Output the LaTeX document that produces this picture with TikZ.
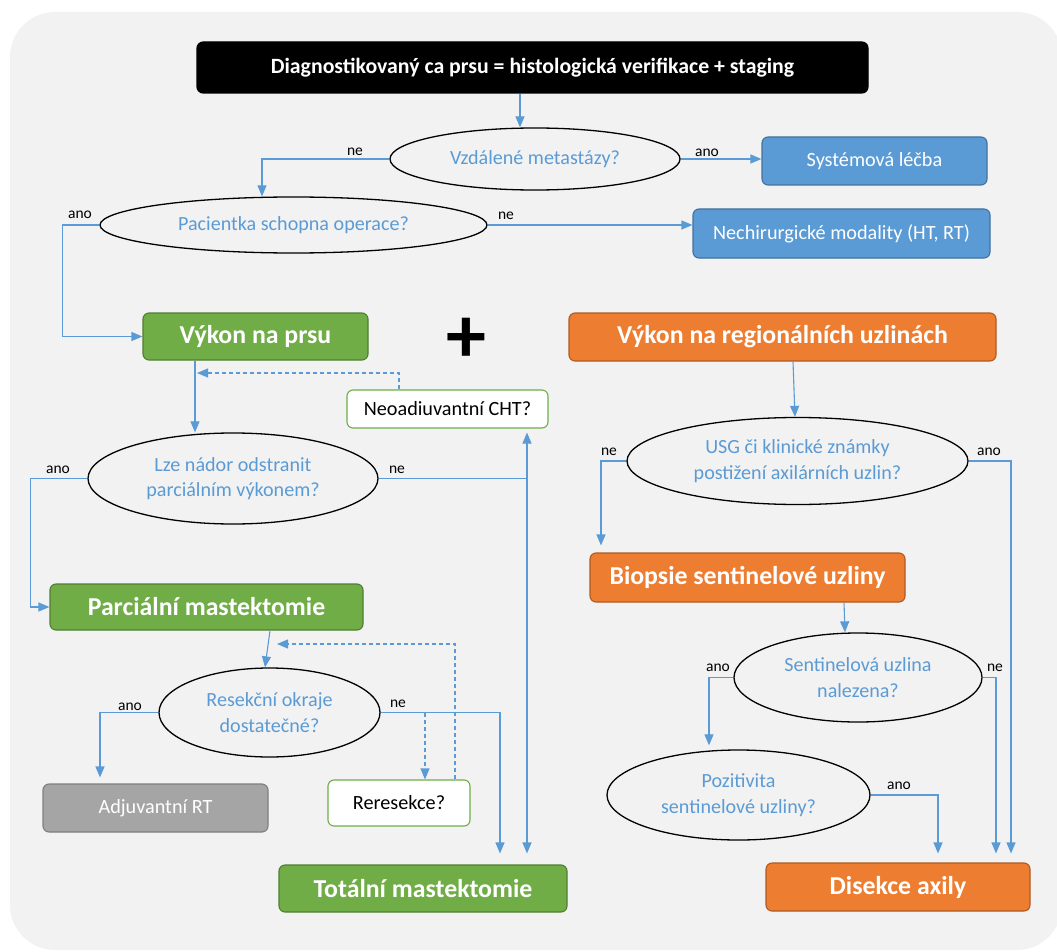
\documentclass[tikz,border=0pt]{standalone}
\usepackage{fontspec}
\setmainfont{Carlito}
\usetikzlibrary{shapes.geometric,arrows.meta}
\definecolor{cblue}{HTML}{5B9BD5}
\definecolor{cblueD}{HTML}{41719C}
\definecolor{cgreen}{HTML}{70AD47}
\definecolor{cgreenD}{HTML}{507E32}
\definecolor{corange}{HTML}{ED7D31}
\definecolor{corangeD}{HTML}{AE5A21}
\definecolor{cgray}{HTML}{A5A5A5}
\definecolor{cgrayD}{HTML}{7F7F7F}
\definecolor{cbg}{HTML}{F2F2F2}
\begin{document}
\begin{tikzpicture}[x=1pt,y=-1pt,
 box/.style={rectangle, rounded corners=6pt, line width=1.1pt, align=center, inner sep=0pt},
 normtxt/.style={font=\fontsize{20.2}{24}\selectfont},
 boldtxt/.style={font=\fontsize{25.8}{30}\selectfont\bfseries},
 bluebox/.style={box, normtxt, fill=cblue, draw=cblueD, text=white},
 greenbox/.style={box, boldtxt, fill=cgreen, draw=cgreenD, text=white},
 orangebox/.style={box, boldtxt, fill=corange, draw=corangeD, text=white},
 graybox/.style={box, normtxt, fill=cgray, draw=cgrayD, text=white},
 whitebox/.style={box, normtxt, fill=white, draw=cgreen, text=black},
 blackbox/.style={box, fill=black, draw=black, text=white, font=\fontsize{21.8}{25}\selectfont\bfseries},
 dec/.style={ellipse, draw=black, line width=1.3pt, align=center, inner sep=0pt, text=cblue, font=\fontsize{20.1}{25.5}\selectfont},
 lab/.style={inner sep=0pt, text=black, font=\fontsize{15.5}{18}\selectfont},
 arr/.style={draw=cblue, line width=1.1pt, -{Triangle[width=9pt,length=11pt]}},
 conn/.style={draw=cblue, line width=1.1pt},
 dasharr/.style={draw=cblue, line width=1.1pt, dash pattern=on 4pt off 3pt, -{Triangle[width=9pt,length=11pt]}}
]
\useasboundingbox (0,0) rectangle (1057,952);
\fill[white] (0,0) rectangle (1057,952);
\fill[cbg, rounded corners=45pt] (10,12) rectangle (1062,950);

% nodes
\node[blackbox, minimum width=671, minimum height=51] (title) at (532.5,67.5) {Diagnostikovaný ca prsu = histologická verifikace + staging};
\node[dec, minimum width=290, minimum height=62] (e1) at (535,159) {Vzdálené metastázy?};
\node[bluebox, minimum width=225, minimum height=48] (sys) at (874.5,161) {Systémová léčba};
\node[dec, minimum width=387, minimum height=56] (e2) at (293.5,225) {Pacientka schopna operace?};
\node[bluebox, minimum width=297, minimum height=49] (nech) at (841.5,233.5) {Nechirurgické modality (HT, RT)};
\node[greenbox, minimum width=225, minimum height=47] (vpr) at (255.5,336.5) {Výkon na prsu};
\node[inner sep=0pt, font=\fontsize{80}{80}\selectfont\bfseries] (plus) at (466,340) {+};
\node[orangebox, minimum width=427, minimum height=48] (vreg) at (782.5,337) {Výkon na regionálních uzlinách};
\node[whitebox, minimum width=201, minimum height=38] (neo) at (447.5,409) {Neoadiuvantní CHT?};
\node[dec, minimum width=290, minimum height=91] (e3) at (233,478.5) {Lze nádor odstranit\\parciálním výkonem?};
\node[greenbox, minimum width=313, minimum height=46] (parc) at (206.5,607) {Parciální mastektomie};
\node[dec, minimum width=221, minimum height=89] (e4) at (269.5,712.5) {Resekční okraje\\dostatečné?};
\node[graybox, minimum width=225, minimum height=48] (adj) at (155.5,808) {Adjuvantní RT};
\node[whitebox, minimum width=142, minimum height=46] (rer) at (399,803) {Reresekce?};
\node[greenbox, minimum width=288, minimum height=47] (tot) at (423,888.5) {Totální mastektomie};
\node[dec, minimum width=341, minimum height=87] (e5) at (797.5,461) {USG či klinické známky\\postižení axilárních uzlin?};
\node[orangebox, minimum width=315, minimum height=49] (bio) at (747.5,577.5) {Biopsie sentinelové uzliny};
\node[dec, minimum width=248, minimum height=89] (e6) at (858,677.5) {Sentinelová uzlina\\nalezena?};
\node[dec, minimum width=263, minimum height=90] (e7) at (738.5,795) {Pozitivita\\sentinelové uzliny?};
\node[orangebox, minimum width=264, minimum height=48] (dis) at (898,887) {Disekce axily};

% labels
\node[lab] (l1) at (355,152) {ne};
\node[lab] (l2) at (707,153) {ano};
\node[lab] (l3) at (80,215) {ano};
\node[lab] (l4) at (506,216) {ne};
\node[lab] (l5) at (58,470) {ano};
\node[lab] (l6) at (397,470) {ne};
\node[lab] (l7) at (130,707) {ano};
\node[lab] (l8) at (398,704) {ne};
\node[lab] (l9) at (609,452) {ne};
\node[lab] (l10) at (989,452) {ano};
\node[lab] (l11) at (718,668) {ano};
\node[lab] (l12) at (995,668) {ne};
\node[lab] (l13) at (899,786) {ano};

% helper coordinates
\coordinate (j1) at (527,478.5);
\coordinate (j2) at (425,712.5);
\coordinate (vprdash) at (197,373);
\coordinate (parcdash) at (277,644);

% connectors
\draw[arr] ([xshift=-12.5]title.south) -- ([xshift=-15]e1.north);
\draw[arr] (e1.west) -| ([xshift=-31.5]e2.north);
\draw[arr] (e1.east) -- (e1.east -| sys.west);
\draw[arr] (e2.west) -- ++(-37,0) |- (vpr.west);
\draw[arr] (e2.east) -- (e2.east -| nech.west);
\draw[arr] ([xshift=-60.5]vpr.south) -- ([xshift=-60.5]vpr.south |- e3.north);
\draw[dasharr] ([xshift=-48.5]neo.north) |- (vprdash);
\draw[arr] (e3.west) -- ++(-57,0) |- (parc.west);
\draw[conn] (e3.east) -- (j1);
\draw[arr, shorten >=4pt] (j1) -- (j1 |- neo.south);
\draw[arr, shorten >=11pt] (j1) -- (j1 |- tot.north);
\draw[arr] ([xshift=63.5]parc.south) -- ([xshift=-4.5]e4.north);
\draw[dasharr] ([xshift=56]rer.north) |- (parcdash);
\draw[arr, shorten >=6pt] (e4.west) -| ([xshift=-55.5]adj.north);
\draw[arr, shorten >=11pt] (e4.east) -| ([xshift=77]tot.north);
\draw[dasharr] (j2) -- (j2 |- rer.north);

\draw[arr] ([xshift=10.5]vreg.south) -- ([xshift=-2.5]e5.north);
\draw[arr, shorten >=7pt] (e5.west) -| ([xshift=-146.5]bio.north);
\draw[arr, shorten >=9pt] (e5.east) -| ([xshift=113]dis.north);
\draw[arr] ([xshift=96.5]bio.south) -- ([xshift=-13]e6.north);
\draw[arr, shorten >=4pt] (e6.west) -| ([xshift=-29.5]e7.north);
\draw[arr, shorten >=9pt] (e6.east) -| ([xshift=98]dis.north);
\draw[arr, shorten >=9pt] (e7.east) -| ([xshift=40]dis.north);
\end{tikzpicture}
\end{document}
